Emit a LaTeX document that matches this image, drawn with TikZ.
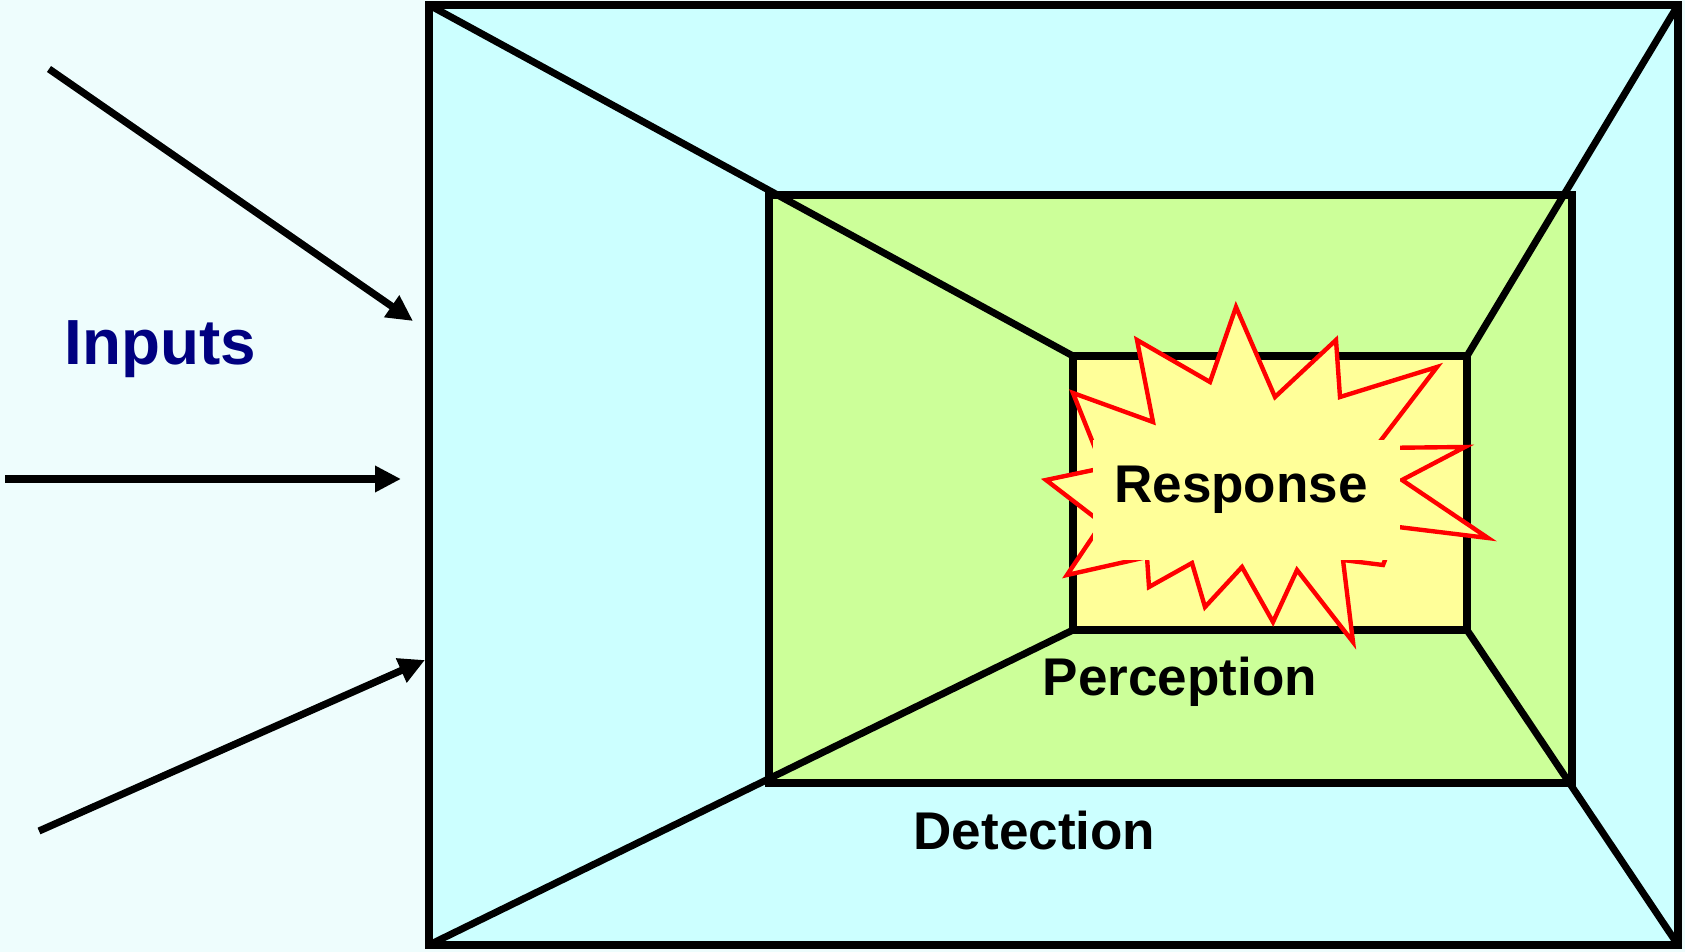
\documentclass[tikz,border=0pt]{standalone}
\usepackage{fontspec}
\setmainfont{Liberation Sans}
\usetikzlibrary{arrows.meta}
\definecolor{bgcol}{RGB}{238,253,253}
\definecolor{detcol}{RGB}{204,255,255}
\definecolor{percol}{RGB}{204,255,153}
\definecolor{respcol}{RGB}{255,255,153}
\definecolor{inputcol}{RGB}{0,0,128}
\tikzset{
  frame/.style={draw=black, line width=4.3pt},
  spoke/.style={black, line width=4pt},
  inarrow/.style={black, line width=4.1pt, -{Triangle[length=0.52cm, width=0.5cm]}},
  lbl/.style={anchor=base, font=\fontsize{30.2}{36}\selectfont\bfseries}
}

\begin{document}
\begin{tikzpicture}[x=0.02cm, y=-0.02cm]
        \useasboundingbox[fill=bgcol] (0,0) rectangle (1685,952);
        \coordinate (dNW) at (429,5);   \coordinate (dSE) at (1678,945);
        \coordinate (pNW) at (769,195); \coordinate (pSE) at (1572,783);
        \coordinate (rNW) at (1073,356); \coordinate (rSE) at (1467,630);
        \draw[frame, fill=detcol] (dNW) rectangle (dSE);
        \draw[frame, fill=percol] (pNW) rectangle (pSE);
        \draw[spoke] (dNW) -- (rNW);
        \draw[spoke] (dNW -| dSE) -- (rNW -| rSE);
        \draw[spoke] (dSE) -- (rSE);
        \draw[spoke] (dNW |- dSE) -- (rNW |- rSE);
        \draw[frame, fill=respcol] (rNW) rectangle (rSE);
        \draw[red, line width=2.5pt, fill=respcol]
          (1236,307) -- (1275,397) -- (1336,340) -- (1340,397) -- (1437,367)
          -- (1375,448) -- (1465,447) -- (1402,480) -- (1488,538) -- (1398,527)
          -- (1383,565) -- (1343,560) -- (1353,642) -- (1297,570) -- (1273,622)
          -- (1242,567) -- (1205,607) -- (1192,563) -- (1149,587) -- (1147,557)
          -- (1067,575) -- (1102,523) -- (1046,480) -- (1103,468) -- (1073,393)
          -- (1153,422) -- (1137,340) -- (1210,382) -- cycle;
        \fill[respcol] (1093,440) rectangle (1400,560);
        \foreach \name/\x/\y/\t in {
          resp/1241/503/Response,
          perc/1180/696/Perception,
          det/1034.5/849/Detection
        } {
          \node[lbl] (\name) at (\x,\y) {\t};
        }
        \node[anchor=base, text=inputcol, font=\fontsize{36.3}{42}\selectfont\bfseries]
          (inputs) at (160.5,365) {Inputs};
        \foreach \n/\sx/\sy/\ex/\ey in {
          1/49/69/413/321,
          2/5/479/401/479,
          3/39/831/425/660
        } {
          \coordinate (s\n) at (\sx,\sy);
          \coordinate (e\n) at (\ex,\ey);
          \draw[inarrow] (s\n) -- (e\n);
        }
      \end{tikzpicture}
\end{document}
